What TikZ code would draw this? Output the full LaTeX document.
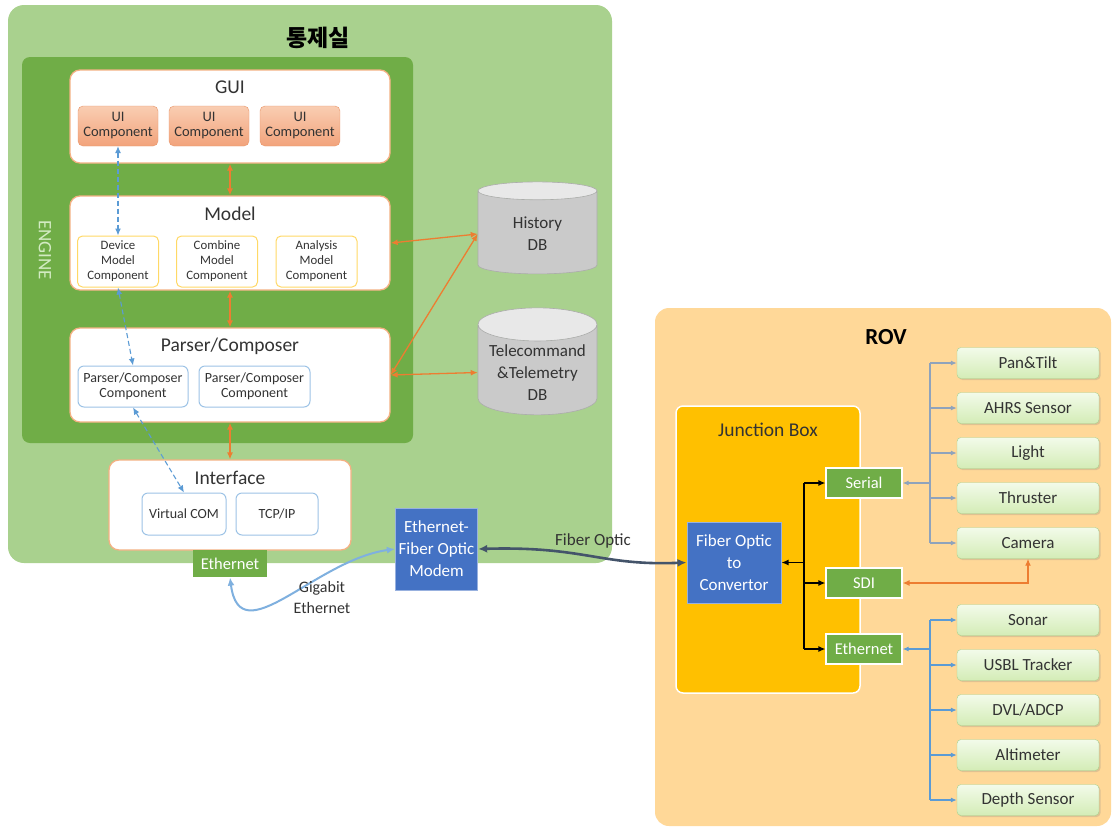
\documentclass[tikz,border=0pt]{standalone}
\usepackage{fontspec}
\setmainfont{Carlito}
\newfontfamily\korfont{Noto Sans CJK KR}
\usetikzlibrary{positioning,shapes.geometric,arrows.meta,shadows}
\definecolor{RoomGreen}{HTML}{A9D18E}
\definecolor{EngGreen}{HTML}{70AD47}
\definecolor{EngText}{HTML}{D3EBC3}
\definecolor{LayerLine}{HTML}{F4B183}
\definecolor{UITop}{HTML}{F9CDB2}
\definecolor{UIBot}{HTML}{F2A37B}
\definecolor{UILine}{HTML}{E8956A}
\definecolor{ModelLine}{HTML}{FFD966}
\definecolor{ParseLine}{HTML}{9DC3E6}
\definecolor{LinkOrange}{HTML}{ED7D31}
\definecolor{LinkBlue}{HTML}{5B9BD5}
\definecolor{LinkGray}{HTML}{8FA3BC}
\definecolor{GigaBlue}{HTML}{7FB0DF}
\definecolor{FiberLine}{HTML}{44546A}
\definecolor{ModemBlue}{HTML}{4472C4}
\definecolor{RovOrange}{HTML}{FFD898}
\definecolor{JBoxYellow}{HTML}{FFC000}
\definecolor{DevTop}{HTML}{F3FBEA}
\definecolor{DevBot}{HTML}{D3ECB6}
\definecolor{DevLine}{HTML}{A9D18E}
\definecolor{DBTop}{HTML}{E8E8E8}
\definecolor{DBBody}{HTML}{CACACA}
\definecolor{TextDark}{HTML}{333333}

\begin{document}
\begin{tikzpicture}[x=1pt,y=-1pt,
  txt/.style 2 args={font=\fontsize{#1}{#2}\selectfont},
  head/.style={txt={19.5}{22}, text=TextDark},
  layerbox/.style={draw=LayerLine, line width=1.3pt, fill=white, rounded corners=10pt,
    minimum width=320pt, minimum height=93pt},
  uicomp/.style={draw=UILine, top color=UITop, bottom color=UIBot, rounded corners=5pt,
    minimum width=80pt, minimum height=40pt, align=center, text=TextDark, txt={14.5}{15}},
  mcomp/.style={draw=ModelLine, line width=1pt, fill=white, rounded corners=5pt,
    minimum width=81pt, minimum height=51pt, align=center, text=TextDark, txt={12.8}{15}},
  pcomp/.style={draw=ParseLine, line width=1pt, fill=white, rounded corners=6pt,
    minimum height=41pt, align=center, text=TextDark, txt={14}{15}},
  gbox/.style={fill=EngGreen, draw=white, line width=1.2pt, text=white, txt={16.5}{18},
    minimum width=76pt, minimum height=30pt},
  bbox/.style={fill=ModemBlue, draw=ModemBlue!55!white, line width=1pt, text=white,
    align=center, txt={17}{22}},
  dev/.style={draw=DevLine, top color=DevTop, bottom color=DevBot, rounded corners=4pt,
    minimum width=142pt, minimum height=31pt, text=TextDark, txt={17}{18},
    drop shadow={opacity=0.25, shadow xshift=1.5pt, shadow yshift=-1.5pt}},
  db/.style={cylinder, shape border rotate=90, aspect=0.32, cylinder uses custom fill,
    cylinder body fill=DBBody, cylinder end fill=DBTop, draw=DBBody!85!black, line width=0.6pt,
    minimum width=119pt, minimum height=92pt, align=center, text=TextDark, txt={17}{22}},
  oarr/.style={LinkOrange, line width=1.3pt, {Latex[length=7pt,width=6pt]}-{Latex[length=7pt,width=6pt]}},
  barr/.style={LinkBlue, line width=1.1pt, dash pattern=on 5pt off 3pt,
    {Latex[length=7pt,width=6pt]}-{Latex[length=7pt,width=6pt]}},
  karr/.style={black, line width=1.3pt, -{Latex[length=7pt,width=6pt]}},
  tarr/.style={line width=1.1pt, -{Latex[length=6pt,width=5pt]}}]
  \useasboundingbox (0,0) rectangle (1113,828);
  \fill[white] (0,0) rectangle (1113,828);

  % control room and engine panels
  \fill[RoomGreen, rounded corners=16pt] (8,5) rectangle (612,563);
  \node[font=\korfont\bfseries\fontsize{23}{26}\selectfont, text=black] (roomlab) at (318,38) {통제실};
  \fill[EngGreen, rounded corners=8pt] (22,57) rectangle (413,443);
  \node[rotate=-90, txt={19}{20}, text=EngText] (englab) at (45,250) {ENGINE};

  % layers of the engine
  \node[layerbox] (gui) at (230,116.5) {};
  \node[head] (guilab) at (230,87) {GUI};
  \foreach \n/\x in {ui1/118, ui2/209, ui3/300}
    \node[uicomp] (\n) at (\x,126) {UI\\Component};

  \node[layerbox, minimum height=94pt] (model) at (230,243) {};
  \node[head] (modellab) at (230,214) {Model};
  \foreach \n/\x/\lab in {devm/118/Device, combm/217/Combine, anam/316.5/Analysis}
    \node[mcomp] (\n) at (\x,261.5) {\lab\\Model\\Component};

  \node[layerbox, minimum height=94pt] (pc) at (230,375) {};
  \node[head] (pclab) at (230,346) {Parser/Composer};
  \node[pcomp, minimum width=110pt] (pc1) at (133,386.5) {Parser/Composer\\Component};
  \node[pcomp, minimum width=111pt] (pc2) at (254.5,386.5) {Parser/Composer\\Component};

  \node[layerbox, minimum width=242pt, minimum height=90pt] (iface) at (230,505) {};
  \node[head] (ifacelab) at (230,478) {Interface};
  \node[pcomp, minimum width=84pt, minimum height=42pt] (vcom) at (184,514) {Virtual COM};
  \node[pcomp, minimum width=82pt, minimum height=42pt] (tcp) at (277,514) {TCP/IP};
  \node[gbox, minimum width=74pt, minimum height=27pt, draw=none] (eth) at (230,563.5) {Ethernet};

  % databases
  \node[db] (hist) at (537.5,234) {History\\DB};
  \node[db, minimum height=91pt] (tele) at (537.5,372.5) {Telecommand\\\&Telemetry\\DB};

  % links inside the control room
  \draw[oarr] (gui.south) -- (model.north);
  \draw[oarr] (model.south) -- (pc.north);
  \draw[oarr] (pc.south) -- (iface.north);
  \draw[oarr] (model.east) -- (hist.west);
  \draw[oarr] (pc.east) -- (hist.west);
  \draw[oarr] (pc.east) -- (tele.west);
  \draw[barr] (ui1.south) -- (devm.north);
  \draw[barr] (devm.south) -- (pc1.north);
  \draw[barr] (pc1.south) -- (vcom.north);

  % modem and fiber
  \node[bbox, minimum width=77pt, minimum height=82pt] (modem) at (436.5,549) {Ethernet-\\Fiber Optic\\Modem};
  \draw[GigaBlue, line width=2pt, {Latex[length=8pt,width=7pt]}-{Latex[length=8pt,width=7pt]}]
    (eth.south) .. controls (240,655) and (315,560) .. (modem.west);
  \node[txt={16}{21}, text=TextDark, align=center] (gigalab) at (322,597) {Gigabit\\Ethernet};

  % ROV side
  \fill[RovOrange, rounded corners=14pt] (655,308) rectangle (1111,826);
  \node[font=\bfseries\fontsize{23}{26}\selectfont, text=black] (rovlab) at (886,337) {ROV};
  \draw[white, line width=1.5pt, fill=JBoxYellow, rounded corners=7pt] (676,406) rectangle (860,693);
  \node[head] (jblab) at (768,430) {Junction Box};
  \node[bbox, minimum width=94pt, minimum height=81pt] (conv) at (734,562.5) {Fiber Optic\\to\\Convertor};
  \node[gbox] (ser) at (864,483) {Serial};
  \node[gbox] (sdi) at (864,583) {SDI};
  \node[gbox] (ethr) at (864,649) {Ethernet};

  \draw[FiberLine, line width=2.6pt, {Latex[length=9pt,width=8pt]}-{Latex[length=9pt,width=8pt]}]
    (modem.east) .. controls (585,546) and (600,566) .. (conv.west);
  \node[txt={17}{20}, text=TextDark] (fiberlab) at (593,541) {Fiber Optic};

  % junction box wiring
  \coordinate (jtrunk) at (804,562.5);
  \draw[black, line width=1.3pt] (jtrunk |- ser.west) -- (jtrunk |- ethr.west);
  \draw[karr] (jtrunk) -- (conv.east);
  \foreach \p in {ser,sdi,ethr}
    \draw[karr] (jtrunk |- \p.west) -- (\p.west);

  % devices
  \foreach \n/\y/\lab in {pan/363/Pan\&Tilt, ahrs/408/AHRS Sensor, light/453/Light,
      thr/498/Thruster, cam/543/Camera, sonar/620/Sonar, usbl/665/USBL Tracker,
      dvl/710/{DVL/ADCP}, alt/755/Altimeter, depth/800/Depth Sensor}
    \node[dev] (\n) at (1028,\y) {\lab};

  \coordinate (dtrunk) at (930,483);
  \draw[LinkGray, line width=1.1pt] (dtrunk |- pan.west) -- (dtrunk |- cam.west);
  \draw[tarr, LinkGray] (dtrunk |- ser.east) -- (ser.east);
  \foreach \d in {pan,ahrs,light,thr,cam}
    \draw[tarr, LinkGray] (dtrunk |- \d.west) -- (\d.west);
  \draw[LinkBlue, line width=1.1pt] (dtrunk |- sonar.west) -- (dtrunk |- depth.west);
  \draw[tarr, LinkBlue] (dtrunk |- ethr.east) -- (ethr.east);
  \foreach \d in {sonar,usbl,dvl,alt,depth}
    \draw[tarr, LinkBlue] (dtrunk |- \d.west) -- (\d.west);
  \draw[oarr] (sdi.east) -| (cam.south);
\end{tikzpicture}
\end{document}
